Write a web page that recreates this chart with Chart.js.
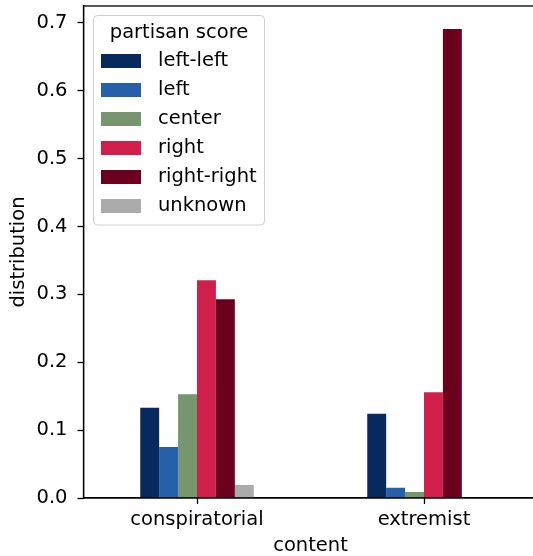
<!DOCTYPE html>
<html>
<head>
<meta charset="utf-8">
<script src="https://cdn.jsdelivr.net/npm/chart.js@4/dist/chart.umd.min.js"></script>
<style>
html,body{margin:0;padding:0;background:#fff;overflow:hidden;width:533px;height:556px;}
#wrap{position:relative;width:533px;height:556px;overflow:hidden;}
canvas{display:block;position:absolute;left:0;top:0;}
</style>
</head>
<body>
<div id="wrap"><canvas id="c" width="545" height="556"></canvas></div>
<script>
const categories = ["conspiratorial", "extremist"];
const seriesNames = ["left-left", "left", "center", "right", "right-right", "unknown"];
const leftLeft   = [0.133, 0.124];
const left       = [0.075, 0.015];
const center     = [0.153, 0.009];
const right      = [0.321, 0.156];
const rightRight = [0.293, 0.691];
const unknown    = [0.019, 0.0];
const yTicks = [0, 0.1, 0.2, 0.3, 0.4, 0.5, 0.6, 0.7];
const colors = ["#08295e", "#2660ab", "#76966d", "#d01f4b", "#6b001e", "#ababab"];
const legendTitle = "partisan score";
const xTitle = "content";
const yTitle = "distribution";

const seriesValues = [leftLeft, left, center, right, rightRight, unknown];
const FS = 19.5;

Chart.defaults.font.family = "'DejaVu Sans', sans-serif";
Chart.defaults.color = "#000";

const framePlugin = {
  id: 'frame',
  afterDraw(chart) {
    const ctx = chart.ctx;
    const xs = chart.scales.x, ys = chart.scales.y;
    ctx.save();
    ctx.strokeStyle = '#000';
    ctx.lineWidth = 1.3;
    ctx.strokeRect(xs.left, ys.top, xs.right - xs.left, ys.bottom - ys.top);
    // legend
    const x = 93.5, y = 15.5, w = 171, h = 209.5, r = 4;
    ctx.beginPath();
    ctx.moveTo(x + r, y);
    ctx.lineTo(x + w - r, y);
    ctx.quadraticCurveTo(x + w, y, x + w, y + r);
    ctx.lineTo(x + w, y + h - r);
    ctx.quadraticCurveTo(x + w, y + h, x + w - r, y + h);
    ctx.lineTo(x + r, y + h);
    ctx.quadraticCurveTo(x, y + h, x, y + h - r);
    ctx.lineTo(x, y + r);
    ctx.quadraticCurveTo(x, y, x + r, y);
    ctx.closePath();
    ctx.fillStyle = 'rgba(255,255,255,0.8)';
    ctx.fill();
    ctx.strokeStyle = '#d0d0d0';
    ctx.lineWidth = 1;
    ctx.stroke();
    ctx.fillStyle = '#000';
    ctx.font = FS + "px 'DejaVu Sans', sans-serif";
    ctx.textAlign = 'center';
    ctx.textBaseline = 'middle';
    ctx.fillText(legendTitle, x + w / 2, 33);
    ctx.textAlign = 'left';
    chart.data.datasets.forEach((ds, i) => {
      const cy = 61 + i * 29;
      ctx.fillStyle = ds.backgroundColor;
      ctx.fillRect(101, cy - 7, 40, 14);
      ctx.fillStyle = '#000';
      ctx.fillText(ds.label, 158, cy);
    });
    ctx.restore();
  }
};

new Chart(document.getElementById('c'), {
  type: 'bar',
  data: {
    labels: categories,
    datasets: seriesNames.map((n, i) => ({
      label: n,
      data: seriesValues[i],
      backgroundColor: colors[i],
      borderWidth: 0,
      categoryPercentage: 0.5,
      barPercentage: 1.0
    }))
  },
  options: {
    responsive: false,
    animation: false,
    layout: { autoPadding: false, padding: { top: 6, right: 7.5, left: 0, bottom: 0 } },
    plugins: { legend: { display: false }, tooltip: { enabled: false } },
    scales: {
      x: {
        grid: { display: true, drawOnChartArea: false, offset: false, tickLength: 6, tickColor: '#000', tickWidth: 1.3 },
        border: { display: true, color: '#000', width: 1.3 },
        ticks: { font: { size: FS }, color: '#000', padding: 4, maxRotation: 0 },
        title: { display: true, text: xTitle, font: { size: FS, lineHeight: 1 }, color: '#000', padding: { top: 0, bottom: 0 } },
        afterFit(s) { s.height = 58; s.paddingLeft = 0; s.paddingRight = 0; s.paddingTop = 0; s.paddingBottom = 0; }
      },
      y: {
        min: 0,
        max: 0.725,
        afterBuildTicks(s) { s.ticks = yTicks.map(v => ({ value: v })); },
        grid: { display: true, drawOnChartArea: false, tickLength: 6, tickColor: '#000', tickWidth: 1.3 },
        border: { display: true, color: '#000', width: 1.3 },
        ticks: { font: { size: FS }, color: '#000', padding: 10, callback: v => v.toFixed(1) },
        title: { display: true, text: yTitle, font: { size: FS, lineHeight: 1 }, color: '#000', padding: { top: 9, bottom: 0 } },
        afterFit(s) { s.width = 83.5; s.paddingLeft = 0; s.paddingRight = 0; s.paddingTop = 0; s.paddingBottom = 0; }
      }
    }
  },
  plugins: [framePlugin]
});
</script>
</body>
</html>
